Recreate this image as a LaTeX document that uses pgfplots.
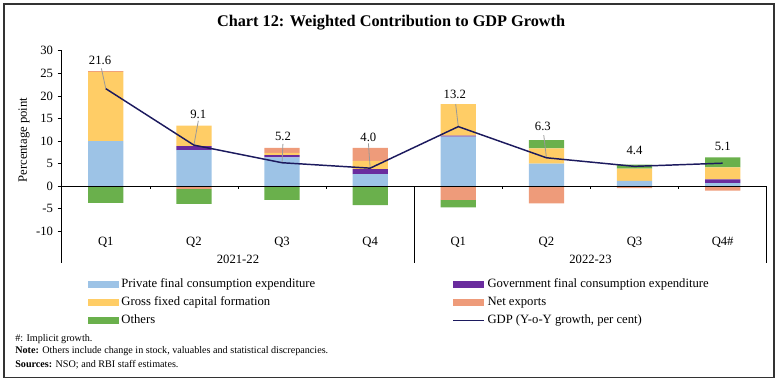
\documentclass[border=0pt]{standalone}
\usepackage{fontspec}
\setmainfont{Liberation Serif}
\usepackage{pgfplots}
\pgfplotsset{compat=1.18}
\usepackage{pgfplotstable}

\definecolor{pfce}{HTML}{9DC3E6}
\definecolor{gfce}{HTML}{6A2C9E}
\definecolor{gfcf}{HTML}{FFCD66}
\definecolor{nx}{HTML}{EE9B7A}
\definecolor{oth}{HTML}{6AB04C}
\definecolor{gdp}{HTML}{1C1A5E}

% positive contributions (stacked upward)
\pgfplotstableread{
x pfce gfce gfcf nx oth
0 10.0 0.0 15.3 0.2 0.0
1 8.0 0.9 4.5 0.0 0.0
2 6.4 0.5 0.5 1.1 0.0
3 2.7 1.1 1.8 2.9 0.0
4 11.0 0.2 7.0 0.0 0.0
5 5.0 0.0 3.4 0.0 1.8
6 1.2 0.0 2.7 0.0 0.9
7 0.7 0.8 2.7 0.0 2.2
}\postab

% negative contributions (stacked downward)
\pgfplotstableread{
x pfce gfce gfcf nx oth
0 0.0 -0.2 0.0 0.0 -3.5
1 0.0 0.0 0.0 -0.6 -3.3
2 0.0 0.0 0.0 0.0 -3.0
3 0.0 0.0 0.0 0.0 -4.2
4 0.0 0.0 0.0 -3.0 -1.7
5 0.0 0.0 0.0 -3.8 0.0
6 0.0 0.0 0.0 -0.4 0.0
7 0.0 0.0 0.0 -1.0 0.0
}\negtab

\pgfplotstableread{
x gdp
0 21.6
1 9.1
2 5.2
3 4.0
4 13.2
5 6.3
6 4.4
7 5.1
}\gdptab

\pgfplotsset{
  base/.style={scale only axis, width=528.75pt, height=159.2pt,
    xmin=-0.5, xmax=7.5, ymin=-17, ymax=30, clip=false},
  barleg/.style={legend image code/.code={\fill[##1] (0pt,-2.6pt) rectangle (23pt,2.6pt);}},
  lineleg/.style={legend image code/.code={\draw[##1] (0pt,0pt) -- (23pt,0pt);}},
}

\newcommand{\lblfont}{\fontsize{9.5}{11}\selectfont}

\begin{document}
\begin{tikzpicture}
\useasboundingbox (-46.3pt,-89.25pt) rectangle (540.2pt,197.25pt);
\draw[black!80, line width=0.8pt] (-43.3pt,-85.9pt) rectangle (534.2pt,194.25pt);
\node[font=\bfseries\fontsize{12.2}{14}\selectfont] at (247pt,180pt) {Chart 12: Weighted Contribution to GDP Growth};

% axis A: positive stacks, axes, legend
\begin{axis}[base,
  ybar stacked, bar width=0.4,
  axis lines*=left,
  x axis line style={draw=none},
  axis line style={line width=0.6pt},
  xtick={0,...,7},
  xticklabels={Q1,Q2,Q3,Q4,Q1,Q2,Q3,Q4\#},
  xtick style={draw=none},
  xticklabel style={anchor=center, yshift=18.75pt},
  ytick={-10,-5,...,30},
  tick align=outside, major tick length=3pt,
  ytick style={line width=0.5pt, black},
  tick label style={font=\lblfont},
  /pgf/number format/assume math mode=true,
  ylabel={Percentage point},
  ylabel style={font=\lblfont, at={(axis description cs:-0.0535,0.579)}, anchor=center},
  legend columns=2,
  legend cell align=left,
  legend style={at={(axis description cs:0.037,-0.06)}, anchor=north west,
    draw=none, fill=none, font=\lblfont, inner sep=0pt, row sep=1.5pt,
    /tikz/column 2/.style={column sep=101pt}},
]
\addplot[fill=pfce, draw=none, barleg] table[x=x,y=pfce]{\postab};
\addlegendentry{Private final consumption expenditure}
\addplot[fill=gfce, draw=none, barleg] table[x=x,y=gfce]{\postab};
\addlegendentry{Government final consumption expenditure}
\addplot[fill=gfcf, draw=none, barleg] table[x=x,y=gfcf]{\postab};
\addlegendentry{Gross fixed capital formation}
\addplot[fill=nx, draw=none, barleg] table[x=x,y=nx]{\postab};
\addlegendentry{Net exports}
\addplot[fill=oth, draw=none, barleg] table[x=x,y=oth]{\postab};
\addlegendentry{Others}
\addlegendimage{gdp, line width=1.2pt, lineleg}
\addlegendentry{GDP (Y-o-Y growth, per cent)}
\end{axis}

% axis B: negative stacks
\begin{axis}[base, hide axis, ybar stacked, bar width=0.4]
\addplot[fill=pfce, draw=none] table[x=x,y=pfce]{\negtab};
\addplot[fill=gfce, draw=none] table[x=x,y=gfce]{\negtab};
\addplot[fill=gfcf, draw=none] table[x=x,y=gfcf]{\negtab};
\addplot[fill=nx, draw=none] table[x=x,y=nx]{\negtab};
\addplot[fill=oth, draw=none] table[x=x,y=oth]{\negtab};
\end{axis}

% axis C: zero line, separators, GDP line, labels
\begin{axis}[base, hide axis]
\draw[black, line width=0.6pt] (axis cs:-0.5,0) -- (axis cs:7.5,0);
\draw[black, line width=0.5pt] (axis cs:0.5,0) -- (axis cs:0.5,-0.7);
\draw[black, line width=0.5pt] (axis cs:1.5,0) -- (axis cs:1.5,-0.7);
\draw[black, line width=0.5pt] (axis cs:2.5,0) -- (axis cs:2.5,-0.7);
\draw[black, line width=0.5pt] (axis cs:4.5,0) -- (axis cs:4.5,-0.7);
\draw[black, line width=0.5pt] (axis cs:5.5,0) -- (axis cs:5.5,-0.7);
\draw[black, line width=0.5pt] (axis cs:6.5,0) -- (axis cs:6.5,-0.7);
\draw[black, line width=0.6pt] (axis cs:3.5,0) -- (axis cs:3.5,-17);
\draw[black, line width=0.6pt] (axis cs:7.5,0) -- (axis cs:7.5,-17);
\node[font=\lblfont] at (axis cs:1.5,-16.1) {2021-22};
\node[font=\lblfont] at (axis cs:5.5,-16.1) {2022-23};
% leader lines
\addplot[black!40, line width=0.6pt] coordinates {(-0.05,26.1) (0,21.6)};
\addplot[black!40, line width=0.6pt] coordinates {(1.05,14.5) (1,9.1)};
\addplot[black!40, line width=0.6pt] coordinates {(2.01,9.4) (2,5.2)};
\addplot[black!40, line width=0.6pt] coordinates {(2.98,9.5) (3,4.0)};
\addplot[black!40, line width=0.6pt] coordinates {(3.97,18.2) (4,13.2)};
\addplot[black!40, line width=0.6pt] coordinates {(4.97,11.3) (5,6.3)};
\addplot[gdp, line width=1.1pt, mark=none] table[x=x,y=gdp]{\gdptab};
\node[font=\lblfont] at (axis cs:-0.065,27.9) {21.6};
\node[font=\lblfont] at (axis cs:1.05,15.8) {9.1};
\node[font=\lblfont] at (axis cs:2.01,11.0) {5.2};
\node[font=\lblfont] at (axis cs:2.98,10.8) {4.0};
\node[font=\lblfont] at (axis cs:3.96,20.4) {13.2};
\node[font=\lblfont] at (axis cs:4.96,13.2) {6.3};
\node[font=\lblfont] at (axis cs:6.0,8.0) {4.4};
\node[font=\lblfont] at (axis cs:7.0,8.8) {5.1};
\end{axis}

\node[anchor=west, font=\fontsize{7.6}{9}\selectfont, inner sep=0pt] at (-35pt,-57pt) {\#: Implicit growth.};
\node[anchor=west, font=\fontsize{7.6}{9}\selectfont, inner sep=0pt] at (-35pt,-66pt) {\textbf{Note:} Others include change in stock, valuables and statistical discrepancies.};
\node[anchor=west, font=\fontsize{7.6}{9}\selectfont, inner sep=0pt] at (-35pt,-76.5pt) {\textbf{Sources:} NSO; and RBI staff estimates.};
\end{tikzpicture}
\end{document}
